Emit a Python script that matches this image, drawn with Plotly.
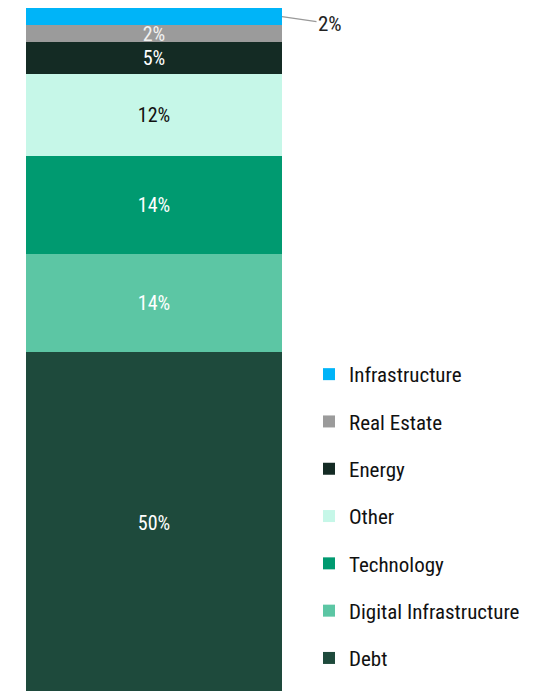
import plotly.graph_objects as go

# Data (bottom to top)
categories = ["Debt", "Digital Infrastructure", "Technology", "Other", "Energy", "Real Estate", "Infrastructure"]
values = [50, 14.3, 14.3, 12.0, 4.7, 2.5, 2.5]
labels = ["50%", "14%", "14%", "12%", "5%", "2%", ""]
outside_label = "2%"
colors = ["#1e4a3c", "#5cc6a4", "#009a70", "#c6f7e8", "#142b24", "#9b9b9b", "#00b4f8"]
text_colors = ["#ffffff", "#ffffff", "#ffffff", "#111111", "#ffffff", "#f2f2f2", "#ffffff"]

FONT = "Liberation Sans Narrow, Roboto Condensed, Roboto, sans-serif"

fig = go.Figure()
n = len(categories)
for i, (cat, v, lab, col, tc) in enumerate(zip(categories, values, labels, colors, text_colors)):
    fig.add_trace(go.Bar(
        x=[0], y=[v], name=cat, width=1,
        marker=dict(color=col, line=dict(width=0)),
        text=[lab], textposition="inside", insidetextanchor="middle",
        textangle=0, textfont=dict(color=tc, size=20, family=FONT),
        legendgroup=cat, legendrank=n - i, hoverinfo="name+y",
    ))

total = sum(values)
fig.add_annotation(
    x=0.5, y=total - values[-1] / 2, xref="x", yref="y",
    text=outside_label, showarrow=True, arrowhead=0, arrowwidth=1.2,
    arrowcolor="#999999", ax=48, ay=7, standoff=0,
    font=dict(size=21, color="#222222", family=FONT),
)

fig.update_layout(
    width=549, height=691,
    margin=dict(l=18, r=275, t=0, b=5),
    barmode="stack", bargap=0,
    plot_bgcolor="white", paper_bgcolor="white",
    uniformtext=dict(mode="show", minsize=20),
    xaxis=dict(visible=False, range=[-0.5, 0.5], fixedrange=True),
    yaxis=dict(visible=False, range=[0, total], fixedrange=True),
    showlegend=True,
    legend=dict(
        traceorder="grouped", tracegroupgap=17,
        xref="container", yref="container", x=301 / 549, xanchor="left",
        y=1 - 346 / 691, yanchor="top",
        font=dict(size=21, color="#111111", family=FONT),
        bgcolor="rgba(0,0,0,0)", borderwidth=0,
    ),
)

fig.write_html("out.html")
